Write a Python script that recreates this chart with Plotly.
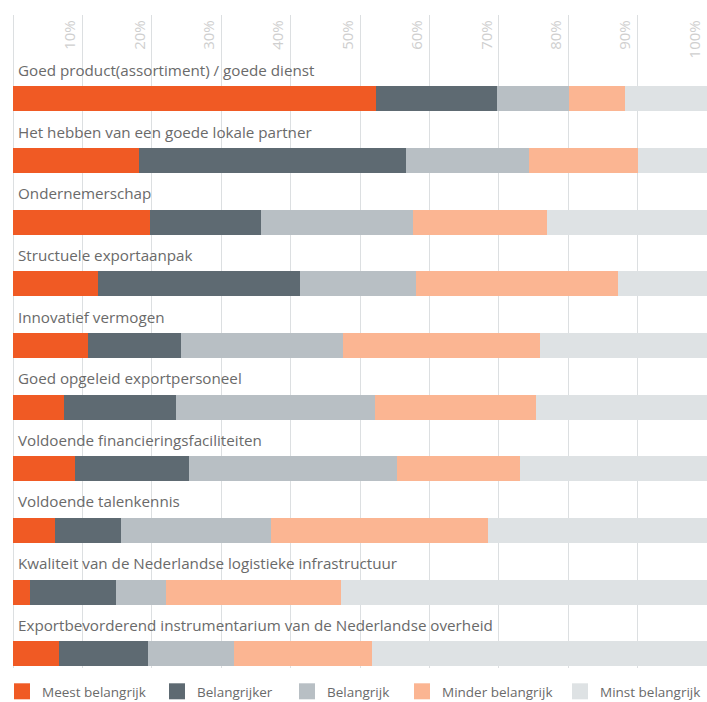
import plotly.graph_objects as go

# Export success factors, share of respondents per importance level (%)
factors = [
    "Goed product(assortiment) / goede dienst",
    "Het hebben van een goede lokale partner",
    "Ondernemerschap",
    "Structuele exportaanpak",
    "Innovatief vermogen",
    "Goed opgeleid exportpersoneel",
    "Voldoende financieringsfaciliteiten",
    "Voldoende talenkennis",
    "Kwaliteit van de Nederlandse logistieke infrastructuur",
    "Exportbevorderend instrumentarium van de Nederlandse overheid",
]

meest_belangrijk = [52.3, 18.2, 19.8, 12.2, 10.8, 7.3, 8.9, 6.0, 2.5, 6.6]
belangrijker = [17.4, 38.4, 15.9, 29.1, 13.4, 16.2, 16.4, 9.6, 12.4, 12.9]
belangrijk = [10.4, 17.8, 21.9, 16.7, 23.3, 28.7, 30.1, 21.6, 7.1, 12.3]
minder_belangrijk = [8.1, 15.6, 19.4, 29.2, 28.4, 23.2, 17.7, 31.2, 25.3, 20.0]
minst_belangrijk = [11.8, 10.0, 23.0, 12.8, 24.1, 24.6, 26.9, 31.6, 52.7, 48.2]

levels = ["Meest belangrijk", "Belangrijker", "Belangrijk", "Minder belangrijk", "Minst belangrijk"]
series = [meest_belangrijk, belangrijker, belangrijk, minder_belangrijk, minst_belangrijk]
colors = ["#F05A24", "#5E6A72", "#B8BFC4", "#FBB592", "#DEE2E4"]

tick_vals = [10, 20, 30, 40, 50, 60, 70, 80, 90, 100]
tick_text = ["10%", "20%", "30%", "40%", "50%", "60%", "70%", "80%", "90%", "100%"]

# left edge (px) of each legend entry along the bottom row
legend_left_px = [2, 157, 287, 402, 560]

FONT = "Open Sans"
TEXT_GREY = "#6a6a6a"
W, H = 707, 702

fig = go.Figure()

for name, vals, col in zip(levels, series, colors):
    fig.add_trace(go.Bar(
        y=factors, x=vals, name=name, orientation="h",
        marker=dict(color=col, line=dict(width=0)),
        width=0.405, showlegend=False,
    ))

# one legend per level so each swatch sits at its own spot in the row
legend_layouts = {}
for i, (name, col, left) in enumerate(zip(levels, colors, legend_left_px)):
    key = "legend" if i == 0 else f"legend{i + 1}"
    fig.add_trace(go.Scatter(
        x=[None], y=[None], mode="markers", name=name,
        marker=dict(symbol="square", size=16, color=col),
        showlegend=True, legend=key,
    ))
    legend_layouts[key] = dict(
        orientation="h",
        xref="container", x=left / W, xanchor="left",
        yref="container", y=0.037, yanchor="top",
        font=dict(family=FONT, size=13.5, color=TEXT_GREY),
        itemsizing="trace", bgcolor="rgba(0,0,0,0)",
    )

# factor names above each bar
for f in factors:
    fig.add_annotation(
        x=0, y=f, xref="x", yref="y", text=f, showarrow=False,
        xanchor="left", yanchor="middle", xshift=3, yshift=29,
        font=dict(family=FONT, size=15.2, color=TEXT_GREY),
    )

fig.update_layout(
    width=W, height=H,
    margin=dict(l=13, r=0, t=15, b=34),
    barmode="stack",
    bargap=0,
    plot_bgcolor="white", paper_bgcolor="white",
    font=dict(family=FONT, color=TEXT_GREY),
    xaxis=dict(
        range=[0, 100], side="top",
        tickvals=tick_vals, ticktext=tick_text,
        tickangle=-90, ticklabelposition="inside",
        ticklabelshift=-12, ticklabelstandoff=-6,
        tickfont=dict(family=FONT, size=15, color="#cfcfcf"),
        showgrid=True, gridcolor="#dcdfe1", gridwidth=1,
        zeroline=True, zerolinecolor="#dcdfe1", zerolinewidth=1,
        showline=False, ticks="", fixedrange=True,
    ),
    yaxis=dict(
        categoryorder="array", categoryarray=factors,
        range=[9.23, -1.36], showticklabels=False,
        showgrid=False, zeroline=False, ticks="", fixedrange=True,
    ),
    **legend_layouts,
)

fig.write_html("out.html")
